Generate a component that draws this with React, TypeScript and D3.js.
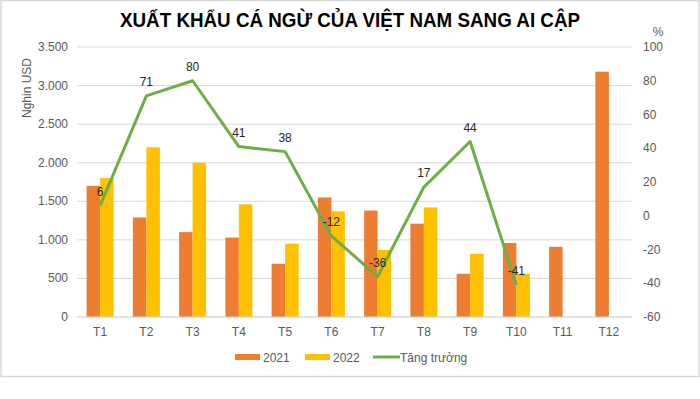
import React from "react";
import * as d3 from "d3";

const categories = ["T1", "T2", "T3", "T4", "T5", "T6", "T7", "T8", "T9", "T10", "T11", "T12"];
const values2021 = [1700, 1290, 1100, 1030, 690, 1550, 1380, 1210, 560, 960, 910, 3180];
const values2022: (number | null)[] = [1800, 2200, 2000, 1460, 950, 1370, 870, 1420, 820, 560, null, null];
const growth = [6, 71, 80, 41, 38, -12, -36, 17, 44, -41];
const leftTicks = [0, 500, 1000, 1500, 2000, 2500, 3000, 3500];
const rightTicks = [-60, -40, -20, 0, 20, 40, 60, 80, 100];

const W = 700;
const H = 399;
const plot = { left: 77, right: 632, top: 47, bottom: 317 };
const font = "Liberation Sans, Arial, sans-serif";
const grey = "#595959";

export default function App() {
  const x = d3.scaleBand().domain(categories).range([plot.left, plot.right]);
  const yL = d3.scaleLinear().domain([0, 3500]).range([plot.bottom, plot.top]);
  const yR = d3.scaleLinear().domain([-60, 100]).range([plot.bottom, plot.top]);
  const bw = 13.5;
  const cx = (c: string) => (x(c) as number) + x.bandwidth() / 2;
  const fmt = (v: number) => d3.format(",")(v).replace(/,/g, ".");
  const line = d3
    .line<number>()
    .x((_, i) => cx(categories[i]))
    .y((d) => yR(d));

  return (
    <svg width={W} height={H} style={{ position: "absolute", left: 0, top: 0, background: "#fff" }} fontFamily={font}>
      <rect x={1} y={0.5} width={698} height={376} fill="#fff" stroke="#D9D9D9" strokeWidth={1.5} />
      <text x={350} y={27} textAnchor="middle" fontSize={20} fontWeight="bold" fill="#000" textLength={460} lengthAdjust="spacingAndGlyphs">
        XUẤT KHẨU CÁ NGỪ CỦA VIỆT NAM SANG AI CẬP
      </text>
      {leftTicks.map((t) => (
        <g key={"gl" + t}>
          <line x1={plot.left} x2={plot.right} y1={yL(t)} y2={yL(t)} stroke="#D9D9D9" strokeWidth={1} />
          <text x={68} y={yL(t) + 4} textAnchor="end" fontSize={12} fill={grey}>
            {fmt(t)}
          </text>
        </g>
      ))}
      {rightTicks.map((t) => (
        <text key={"r" + t} x={643} y={yR(t) + 4} textAnchor="start" fontSize={12} fill={grey}>
          {t}
        </text>
      ))}
      <text x={658} y={36} textAnchor="middle" fontSize={12} fill={grey}>%</text>
      <text transform={`translate(31,88) rotate(-90)`} textAnchor="middle" fontSize={12} fill={grey}>
        Nghin USD
      </text>
      {categories.map((c, i) => (
        <g key={c}>
          <rect x={cx(c) - bw} y={yL(values2021[i])} width={bw} height={plot.bottom - yL(values2021[i])} fill="#ED7D31" />
          {values2022[i] != null && (
            <rect x={cx(c)} y={yL(values2022[i] as number)} width={bw} height={plot.bottom - yL(values2022[i] as number)} fill="#FFC000" />
          )}
          <text x={cx(c)} y={336} textAnchor="middle" fontSize={12} fill={grey}>
            {c}
          </text>
        </g>
      ))}
      <line x1={plot.left} x2={plot.right} y1={plot.bottom} y2={plot.bottom} stroke="#D9D9D9" />
      <path d={line(growth) as string} fill="none" stroke="#70AD47" strokeWidth={3} strokeLinejoin="round" />
      {growth.map((g, i) => (
        <text key={"g" + i} x={cx(categories[i])} y={yR(g) - 10} textAnchor="middle" fontSize={12} fill="#262626">
          {g}
        </text>
      ))}
      <g fontSize={12} fill={grey}>
        <rect x={235} y={354} width={25} height={6} fill="#ED7D31" />
        <text x={263} y={361.5}>2021</text>
        <rect x={305} y={354} width={25} height={6} fill="#FFC000" />
        <text x={333} y={361.5}>2022</text>
        <line x1={373} x2={400} y1={357} y2={357} stroke="#70AD47" strokeWidth={3} />
        <text x={400} y={361.5}>Tăng trưởng</text>
      </g>
    </svg>
  );
}
